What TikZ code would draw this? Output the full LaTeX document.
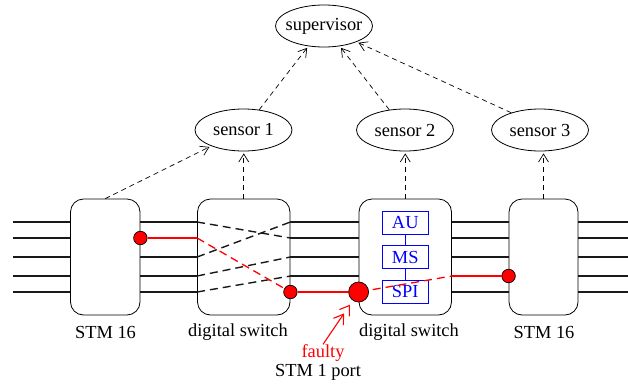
\documentclass[tikz,border=0pt]{standalone}
\usepackage{fontspec}
\setmainfont{Liberation Serif}
\usetikzlibrary{arrows.meta,shapes.geometric,calc}
\tikzset{
  txt/.style={inner sep=0pt,font=\fontsize{18.4}{20}\selectfont},
  ell/.style={txt,draw,ellipse,line width=0.8pt,minimum width=97pt,minimum height=42pt},
  box/.style={draw,line width=0.8pt,rounded corners=13pt,minimum height=116pt,inner sep=0pt},
  unit/.style={txt,draw=blue,text=blue,line width=0.8pt,minimum width=46.5pt,minimum height=23pt},
  port/.style={circle,draw=black,fill=red,line width=0.7pt,inner sep=0pt,minimum size=13.5pt},
  wire/.style={line width=1.4pt,black!90},
  redwire/.style={line width=1.3pt,red},
  cross/.style={wire,dash pattern=on 8pt off 5pt},
  redcross/.style={redwire,dash pattern=on 8pt off 5pt},
  report/.style={line width=0.7pt,dash pattern=on 5pt off 4pt,shorten >=2pt,-{Straight Barb[length=8pt,width=10pt]}},
}
\begin{document}
\begin{tikzpicture}[x=1pt,y=-1pt]
\useasboundingbox (0,0) rectangle (628,383);
% boxes
\node[box,minimum width=69.5pt] (stma) at (105.25,257) {};
\node[box,minimum width=92.5pt] (swa) at (243.75,257) {};
\node[box,minimum width=92.5pt] (swb) at (405.25,257) {};
\node[box,minimum width=69pt] (stmb) at (543.5,257) {};
% ellipses
\node[ell] (sup) at (324,26) {\makebox[0pt]{\raisebox{-1pt}{supervisor}}};
\node[ell] (sa) at (243.5,130) {\makebox[0pt]{sensor 1}};
\node[ell] (sb) at (405,130) {\makebox[0pt]{sensor 2}};
\node[ell] (sc) at (540,130) {\makebox[0pt]{sensor 3}};
% rail coordinates
\foreach \n/\y in {1/222,2/238,3/257,4/276,5/292}{
  \coordinate (la\n) at (13,\y);
  \coordinate (ra\n) at (628,\y);
  \coordinate (a\n) at (stma.west |- 0,\y);
  \coordinate (b\n) at (stma.east |- 0,\y);
  \coordinate (c\n) at (swa.west |- 0,\y);
  \coordinate (d\n) at (swa.east |- 0,\y);
  \coordinate (e\n) at (swb.west |- 0,\y);
  \coordinate (f\n) at (swb.east |- 0,\y);
  \coordinate (g\n) at (stmb.west |- 0,\y);
  \coordinate (h\n) at (stmb.east |- 0,\y);
}
% wires
\foreach \n in {1,2,3,4,5}{
  \draw[wire] (la\n) -- (a\n);
  \draw[wire] (h\n) -- (ra\n);
}
\foreach \n in {1,2,3,4}{
  \draw[wire] (d\n) -- (e\n);
}
\foreach \n in {1,3,4,5}{
  \draw[wire] (b\n) -- (c\n);
}
\foreach \n in {1,2,3,5}{
  \draw[wire] (f\n) -- (g\n);
}
% cross-connects
\draw[cross] (c1) -- (d2);
\draw[cross] (c3) -- (d1);
\draw[cross] (c4) -- (d3);
\draw[cross] (c5) -- (d4);
% units
\node[unit] (au) at (405.25,222.5) {AU};
\node[unit] (ms) at (405.25,257) {MS};
\node[unit] (spi) at (405.25,291.5) {SPI};
\draw[blue,line width=0.8pt] (au) -- (ms);
\draw[blue,line width=0.8pt] (ms) -- (spi);
% ports
\node[port] (pa) at (b2) {};
\node[port] (pb) at (d5) {};
\node[port,minimum size=20pt] (pc) at (e5) {};
\node[port] (pd) at (g4) {};
% faulty path
\draw[redwire] (pa) -- (c2);
\draw[redcross] (c2) -- (pb);
\draw[redwire] (pb) -- (pc);
\draw[redcross,shorten <=4pt] (pc) -- (f4);
\draw[redwire] (f4) -- (pd);
% reports
\draw[report] (stma.north) -- (sa);
\draw[report] (swa.north) -- (swa.north |- sa.south);
\draw[report] (swb.north) -- (swb.north |- sb.south);
\draw[report] (stmb.north) -- (stmb.north |- sc.south);
\draw[report] (sa) -- (sup);
\draw[report] (sb) -- (sup);
\draw[report] (sc.149) -- (sup.-26.6);
% labels
\node[txt] (la) at (105.5,332) {STM 16};
\node[txt] (lb) at (238,332) {digital switch};
\node[txt] (lc) at (409,332) {digital switch};
\node[txt] (ld) at (544,332) {STM 16};
\node[txt,text=red] (fault) at (323,353) {faulty};
\node[txt] (lport) at (318,372) {STM 1 port};
\draw[line width=1.1pt,red,shorten >=5pt,-{Straight Barb[length=9pt,width=12pt].Straight Barb[length=9pt,width=12pt]}] (fault.north) -- (pc);
\end{tikzpicture}
\end{document}
